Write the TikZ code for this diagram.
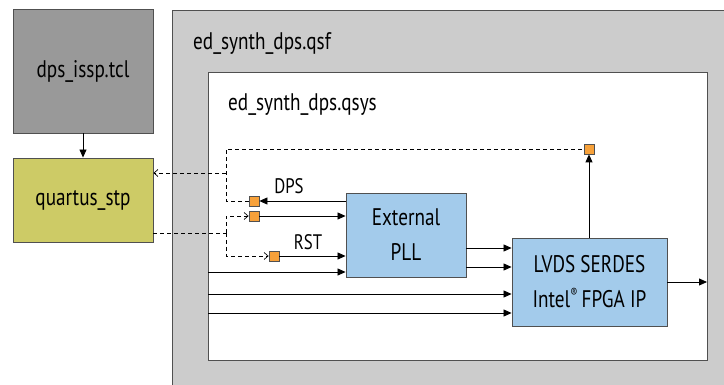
\documentclass[tikz,border=0pt]{standalone}
\usepackage{fontspec}
\setmainfont[FakeStretch=0.8]{PT Sans}
\usetikzlibrary{arrows.meta,calc}
\definecolor{dgray}{HTML}{999999}
\definecolor{lgray}{HTML}{CCCCCC}
\definecolor{olive}{HTML}{CDCB66}
\definecolor{lblue}{HTML}{A3CBEB}
\definecolor{orng}{HTML}{F7A13A}
\definecolor{edge}{HTML}{505050}
\tikzset{
  box/.style={draw=edge, line width=0.9pt, inner sep=0pt, align=center, font=\fontsize{24}{35}\selectfont},
  sq/.style={draw=edge, line width=0.8pt, fill=orng, minimum size=10pt, inner sep=0pt},
  arr/.style={line width=0.8pt, -{Triangle[length=8pt,width=7pt]}},
  darr/.style={line width=0.7pt, dashed, dash pattern=on 4pt off 3pt},
  dtip/.style={-{Straight Barb[length=4pt,width=7pt,line width=0.7pt]}},
  lbl/.style={font=\fontsize{21}{24}\selectfont, inner sep=0pt},
  title/.style={font=\fontsize{24}{28}\selectfont, inner sep=0pt, anchor=west},
}
\begin{document}
\begin{tikzpicture}[x=1pt,y=-1pt]
\useasboundingbox (0,0) rectangle (724,385);
\begin{scope}
\clip (0,0) rectangle (724,385);
\fill[lgray] (172,10) rectangle (740,400);
\draw[edge, line width=0.9pt] (740,10) -- (172,10) -- (172,400);
\end{scope}
\node[title] (qsf) at (193,43) {ed\_synth\_dps.qsf};
\node[box, fill=white, minimum width=499pt, minimum height=288pt] (inner) at (457.5,216) {};
\node[title] (qsys) at (228,105) {ed\_synth\_dps.qsys};

\node[box, fill=dgray, minimum width=140pt, minimum height=124pt] (dps) at (83,71) {dps\_issp.tcl};
\node[box, fill=olive, minimum width=140pt, minimum height=84pt] (qstp) at (83,200) {quartus\_stp};

\node[box, fill=lblue, minimum width=120pt, minimum height=84pt] (pll) at (406,235) {External\\PLL};
\node[box, fill=lblue, minimum width=155pt, minimum height=88pt] (lvds) at (589.5,282) {LVDS SERDES\\Intel\raisebox{0.45em}{\fontsize{13}{14}\selectfont ®}\,FPGA IP};

\node[sq] (s1) at (254,201) {};
\node[sq] (s2) at (254,216) {};
\node[sq] (s3) at (274,256) {};
\node[sq] (s4) at (589,149) {};

\coordinate (i1) at (208,272);
\coordinate (i2) at (208,294);
\coordinate (i3) at (208,313);
\coordinate (o1) at (707,282);
\coordinate (dtop) at (226,149);
\coordinate (dmid) at (226,173);
\coordinate (dbot) at (226,233);

\draw[arr] (dps.south) -- (qstp.north);

\draw[arr] (pll.west |- s1) -- (s1.east);
\draw[arr] (s2.east) -- (pll.west |- s2);
\draw[arr] (s3.east) -- (pll.west |- s3);
\draw[arr] (i1) -- (pll.west |- i1);
\draw[arr] (pll.east |- 0,248) -- (lvds.west |- 0,248);
\draw[arr] (pll.east |- 0,267) -- (lvds.west |- 0,267);
\draw[arr] (i2) -- (lvds.west |- i2);
\draw[arr] (i3) -- (lvds.west |- i3);
\draw[arr] (lvds.east |- o1) -- (o1);
\draw[arr] (lvds.north -| s4) -- (s4.south);

\node[lbl] (dpsl) at (289,186) {DPS};
\node[lbl] (rstl) at (308,242) {RST};

\draw[darr] (s1.west) -- (dtop |- s1) -- (dtop) -- (s4.west);
\draw[darr, dtip] (dmid) -- (qstp.east |- dmid);
\draw[darr] (qstp.east |- dbot) -- (dbot);
\draw[darr, dtip] (dbot) -- (dbot |- s2) -- (s2.west);
\draw[darr, dtip] (dbot) -- (dbot |- s3) -- (s3.west);
\end{tikzpicture}
\end{document}
